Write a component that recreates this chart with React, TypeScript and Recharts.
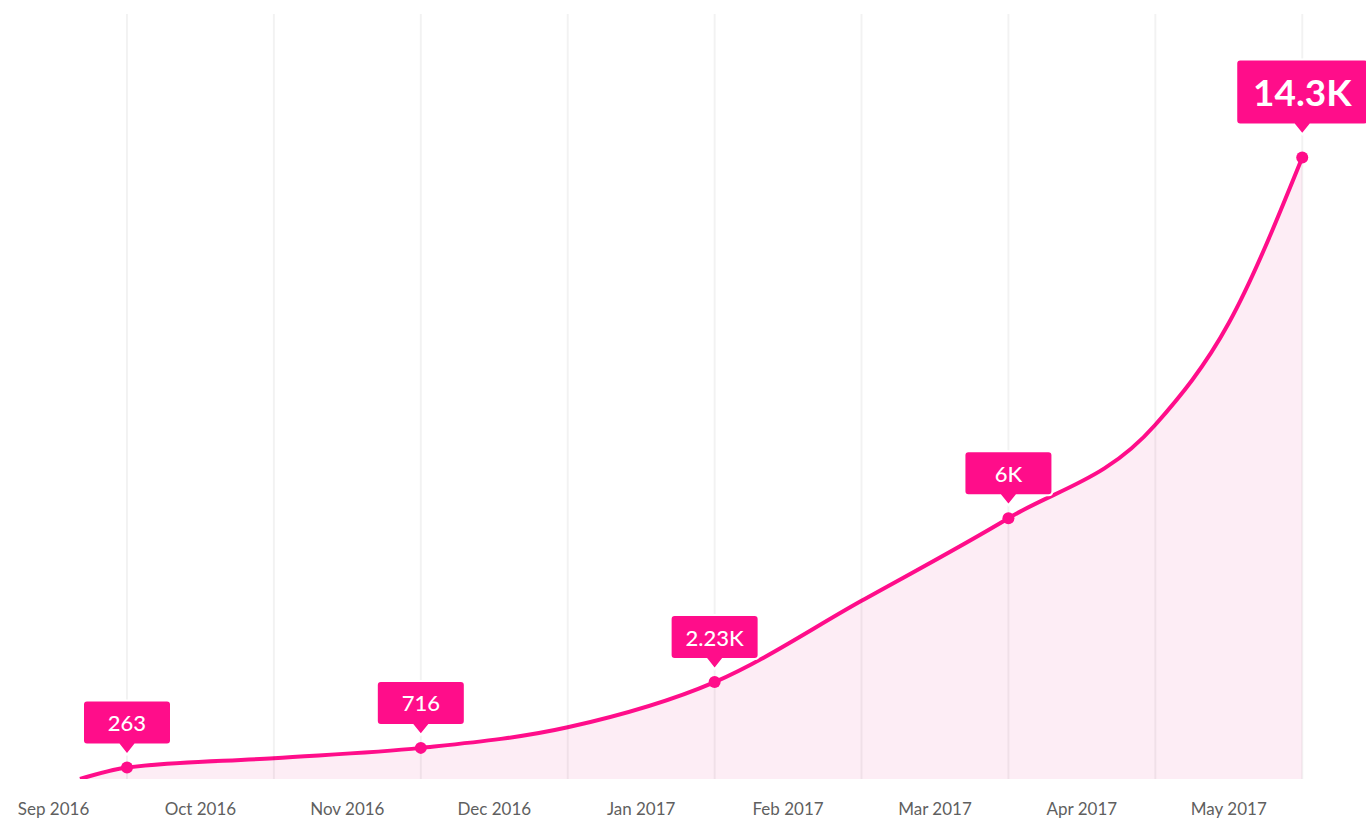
import { AreaChart, Area, XAxis, YAxis, ReferenceLine, LabelList } from "recharts";

document.body.style.margin = "0";

// month index (0 = Sep 2016), points sit mid-month
const positions = [0.18, 0.5, 1.5, 2.5, 3.5, 4.5, 5.5, 6.5, 7.5, 8.0, 8.5];
const users = [0, 263, 480, 716, 1190, 2230, 4100, 6000, 8150, 10490, 14300];
const badges = ["", "263", "", "716", "", "2.23K", "", "6K", "", "", "14.3K"];

const monthLabels = [
  "Sep 2016",
  "Oct 2016",
  "Nov 2016",
  "Dec 2016",
  "Jan 2017",
  "Feb 2017",
  "Mar 2017",
  "Apr 2017",
  "May 2017",
];
const monthTicks = [0, 1, 2, 3, 4, 5, 6, 7, 8];
const gridLines = [0.5, 1.5, 2.5, 3.5, 4.5, 5.5, 6.5, 7.5, 8.5];

const data = positions.map((pos, i) => ({ pos, users: users[i], badge: badges[i] }));

const PINK = "#ff0d8a";

function Badge(props: any) {
  const { x, y, value } = props;
  if (!value) return null;
  const big = value === "14.3K";
  const w = big ? 132 : 88;
  const h = big ? 65 : 44;
  const gap = big ? 33 : 23;
  const tri = 10;
  const r = 4;
  const left = x - w / 2;
  const bottom = y - gap;
  const top = bottom - h;
  const d = [
    `M ${left + r} ${top}`,
    `H ${left + w - r}`,
    `Q ${left + w} ${top} ${left + w} ${top + r}`,
    `V ${bottom - r}`,
    `Q ${left + w} ${bottom} ${left + w - r} ${bottom}`,
    `H ${x + 8}`,
    `L ${x} ${bottom + tri}`,
    `L ${x - 8} ${bottom}`,
    `H ${left + r}`,
    `Q ${left} ${bottom} ${left} ${bottom - r}`,
    `V ${top + r}`,
    `Q ${left} ${top} ${left + r} ${top}`,
    "Z",
  ].join(" ");
  return (
    <g>
      <path d={d} fill={PINK} stroke="#ffffff" strokeWidth={2} />
      <text
        x={x}
        y={top + h / 2}
        textAnchor="middle"
        dominantBaseline="central"
        fill="#ffffff"
        fontSize={big ? 37 : 22}
        fontWeight={big ? 700 : 500}
        fontFamily="Lato"
      >
        {value}
      </text>
    </g>
  );
}

function Dot(props: any) {
  const { cx, cy, payload, index } = props;
  if (!payload || !payload.badge) return <g key={index} />;
  return <circle key={index} cx={cx} cy={cy} r={6} fill={PINK} />;
}

export default function App() {
  return (
    <AreaChart
      width={1366}
      height={822}
      data={data}
      margin={{ top: 14, right: 0, left: 0, bottom: 0 }}
      style={{ fontFamily: "Lato" }}
    >
      <XAxis
        dataKey="pos"
        type="number"
        domain={[-0.3645, 8.934]}
        allowDataOverflow
        ticks={monthTicks}
        interval={0}
        tickFormatter={(v) => monthLabels[v]}
        axisLine={false}
        tickLine={false}
        tickSize={0}
        tickMargin={24}
        height={43}
        tick={{ fontSize: 17, fill: "#5f5f5f" }}
      />
      <YAxis hide domain={[0, 17600]} allowDataOverflow />
      <Area
        type="monotone"
        dataKey="users"
        stroke={PINK}
        strokeWidth={4}
        fill="#fdedf5"
        fillOpacity={1}
        dot={Dot}
        activeDot={false}
        isAnimationActive={false}
      >
        <LabelList dataKey="badge" content={Badge} />
      </Area>
      {gridLines.map((g) => (
        <ReferenceLine key={g} x={g} stroke="#000000" strokeOpacity={0.05} strokeWidth={2} />
      ))}
    </AreaChart>
  );
}
